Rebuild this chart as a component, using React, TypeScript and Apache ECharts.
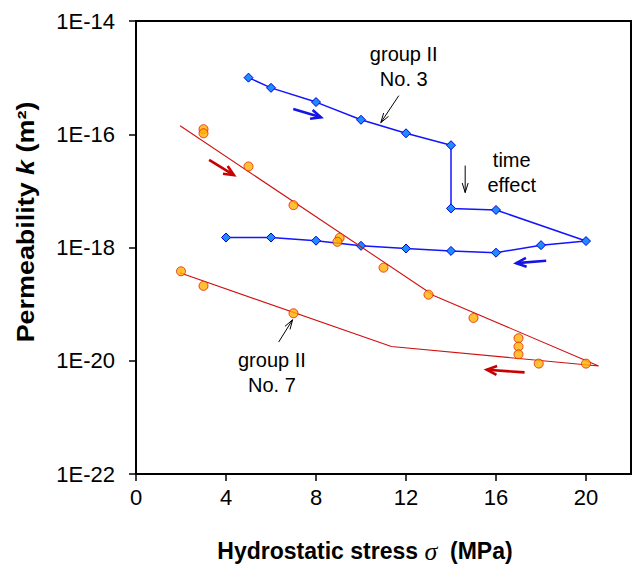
import React, { useEffect, useRef } from "react";
import * as echarts from "echarts";

// Axis ranges (stress in MPa, permeability as decades of m²)
const stressMin = 0;
const stressMax = 22;
const stressStep = 4;
const decadeMin = -22;
const decadeMax = -14;
const decadeStep = 2;

// group II No. 3: loading from 5 MPa to 14 MPa, drop with time, then on to 20 MPa and back down to 4 MPa
const no3Stress = [5, 6, 8, 10, 12, 14, 14, 16, 20, 18, 16, 14, 12, 10, 8, 6, 4];
const no3K = [
  1.0e-15, 6.6e-16, 3.7e-16, 1.8e-16, 1.04e-16, 6.4e-17, 4.9e-18, 4.6e-18, 1.3e-18,
  1.1e-18, 8.1e-19, 8.7e-19, 9.6e-19, 1.07e-18, 1.32e-18, 1.5e-18, 1.5e-18,
];

// group II No. 7: measured points
const no7Stress = [3, 3, 5, 7, 9.05, 8.95, 11, 13, 15, 17, 17, 17, 17.9, 20, 7, 3, 2];
const no7K = [
  1.23e-16, 1.04e-16, 2.7e-17, 5.6e-18, 1.48e-18, 1.26e-18, 4.4e-19, 1.47e-19, 5.7e-20,
  2.5e-20, 1.78e-20, 1.3e-20, 8.9e-21, 8.9e-21, 6.9e-20, 2.1e-19, 3.8e-19,
];

// group II No. 7: piecewise trend, loading branch then unloading branch
const no7TrendStress = [1.96, 13.25, 20.56, 11.35, 1.95];
const no7TrendK = [1.41e-16, 1.41e-19, 8.1e-21, 1.78e-20, 3.57e-19];

const FONT = 'Arial, "Liberation Sans", sans-serif';

const toPairs = (xs: number[], ks: number[]) => xs.map((x, i) => [x, Math.log10(ks[i])]);

type Arrow = { from: [number, number]; to: [number, number]; color: string; width: number; head: number; spread: number };

export default function App() {
  const ref = useRef<HTMLDivElement>(null);

  useEffect(() => {
    if (!ref.current) return;
    const chart = echarts.init(ref.current, undefined, { renderer: "svg" });

    chart.setOption({
      animation: false,
      backgroundColor: "#fff",
      grid: {
        left: 136,
        right: 7,
        top: 21,
        bottom: 94,
        show: true,
        borderColor: "#000",
        borderWidth: 2,
      },
      xAxis: {
        type: "value",
        min: stressMin,
        max: stressMax,
        interval: stressStep,
        axisLine: { show: true, lineStyle: { color: "#000", width: 2 } },
        axisTick: { show: true, inside: false, length: 7, lineStyle: { color: "#000", width: 1.5 } },
        axisLabel: { fontFamily: FONT, fontSize: 22, color: "#000", margin: 12, showMaxLabel: false },
        splitLine: { show: false },
      },
      yAxis: {
        type: "value",
        min: decadeMin,
        max: decadeMax,
        interval: decadeStep,
        axisLine: { show: true, lineStyle: { color: "#000", width: 2 } },
        axisTick: { show: true, inside: false, length: 7, lineStyle: { color: "#000", width: 1.5 } },
        axisLabel: {
          fontFamily: FONT,
          fontSize: 22,
          color: "#000",
          margin: 21,
          formatter: (v: number) => "1E" + v,
        },
        splitLine: { show: false },
      },
      series: [
        {
          name: "group II No. 3",
          type: "line",
          data: toPairs(no3Stress, no3K),
          symbol: "diamond",
          symbolSize: 9,
          lineStyle: { color: "#1414ff", width: 1.5 },
          itemStyle: { color: "#1e8cff", borderColor: "#0000d8", borderWidth: 1 },
          z: 2,
        },
        {
          name: "group II No. 7 trend",
          type: "line",
          data: toPairs(no7TrendStress, no7TrendK),
          symbol: "none",
          lineStyle: { color: "#d01010", width: 1.1 },
          z: 3,
        },
        {
          name: "group II No. 7",
          type: "scatter",
          data: toPairs(no7Stress, no7K),
          symbol: "circle",
          symbolSize: 9,
          itemStyle: { color: "#ffb000", borderColor: "#e02000", borderWidth: 1 },
          z: 4,
        },
      ],
    });

    const px = (p: [number, number]) => chart.convertToPixel({ gridIndex: 0 }, p) as number[];

    const blue = "#1414e6";
    const red = "#c80000";
    const arrows: Arrow[] = [
      { from: [6.99, -15.553], to: [8.22, -15.7], color: blue, width: 2.6, head: 11, spread: 0.42 },
      { from: [3.25, -16.453], to: [4.35, -16.723], color: red, width: 2.6, head: 11, spread: 0.42 },
      { from: [18.23, -18.235], to: [16.9, -18.276], color: blue, width: 2.6, head: 11, spread: 0.42 },
      { from: [17.27, -20.206], to: [15.59, -20.158], color: red, width: 2.6, head: 11, spread: 0.42 },
      { from: [14.63, -16.553], to: [14.63, -17.03], color: "#000", width: 1, head: 10, spread: 0.3 },
      { from: [11.68, -15.318], to: [10.88, -15.795], color: "#000", width: 1, head: 10, spread: 0.3 },
      { from: [6.34, -19.67], to: [6.96, -19.276], color: "#000", width: 1, head: 10, spread: 0.3 },
    ];

    const graphics: any[] = [];
    arrows.forEach((a) => {
      const [x1, y1] = px(a.from);
      const [x2, y2] = px(a.to);
      const ang = Math.atan2(y2 - y1, x2 - x1);
      const w1 = [x2 - a.head * Math.cos(ang - a.spread), y2 - a.head * Math.sin(ang - a.spread)];
      const w2 = [x2 - a.head * Math.cos(ang + a.spread), y2 - a.head * Math.sin(ang + a.spread)];
      graphics.push({
        type: "line",
        shape: { x1, y1, x2, y2 },
        style: { stroke: a.color, lineWidth: a.width },
        z: 10,
      });
      graphics.push({
        type: "polyline",
        shape: { points: [w1, [x2, y2], w2] },
        style: { stroke: a.color, lineWidth: a.width, fill: null, lineJoin: "miter" },
        z: 10,
      });
    });

    const notes: { at: [number, number]; text: string }[] = [
      { at: [11.9, -14.81], text: "group II\nNo. 3" },
      { at: [16.7, -16.68], text: "time\neffect" },
      { at: [6.04, -20.2], text: "group II\nNo. 7" },
    ];
    notes.forEach((n) => {
      const [x, y] = px(n.at);
      graphics.push({
        type: "text",
        x,
        y,
        style: {
          text: n.text,
          fontFamily: FONT,
          fontSize: 20,
          lineHeight: 25,
          fill: "#000",
          align: "center",
          verticalAlign: "middle",
        },
        z: 10,
      });
    });

    // axis titles
    graphics.push({
      type: "text",
      x: 365,
      y: 551,
      style: {
        text: "{b|Hydrostatic stress }{s|σ}{b|  (MPa)}",
        align: "center",
        verticalAlign: "middle",
        rich: {
          b: { fontFamily: FONT, fontSize: 23, fontWeight: "bold", fill: "#000" },
          s: { fontFamily: '"Liberation Serif", "DejaVu Serif", serif', fontSize: 26, fontStyle: "italic", fill: "#000" },
        },
      },
    });
    graphics.push({
      type: "text",
      x: 26,
      y: 222,
      rotation: Math.PI / 2,
      scaleX: 1.17,
      style: {
        text: "{b|Permeability }{i|k}{b| (m²)}",
        align: "center",
        verticalAlign: "middle",
        rich: {
          b: { fontFamily: FONT, fontSize: 23, fontWeight: "bold", fill: "#000" },
          i: { fontFamily: FONT, fontSize: 23, fontWeight: "bold", fontStyle: "italic", fill: "#000" },
        },
      },
    });

    chart.setOption({ graphic: graphics });

    return () => chart.dispose();
  }, []);

  return (
    <div
      ref={ref}
      style={{ position: "fixed", left: 0, top: 0, width: 638, height: 568, background: "#fff" }}
    />
  );
}
